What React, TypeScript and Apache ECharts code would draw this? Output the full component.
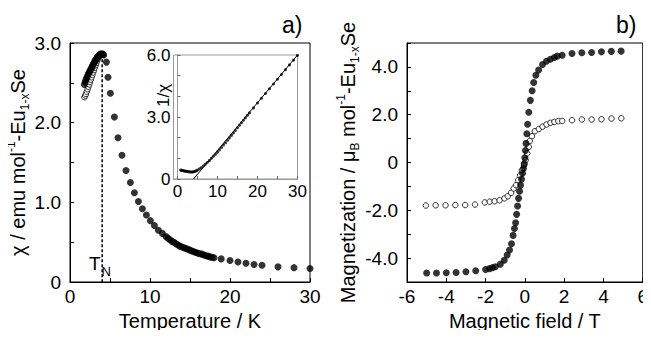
import React, { useEffect, useRef } from "react";
import * as echarts from "echarts";

// ---- Panel a) main: susceptibility vs temperature ----
const lowT_filled = [1.8, 1.9, 2.0, 2.1, 2.2, 2.3, 2.4, 2.5, 2.6, 2.7, 2.8, 2.9, 3.0, 3.1, 3.2, 3.3, 3.4, 3.5, 3.6, 3.7, 3.8, 3.9, 4.0, 4.1, 4.2];
const lowChi_filled = [2.48, 2.51, 2.54, 2.56, 2.59, 2.61, 2.63, 2.65, 2.67, 2.69, 2.71, 2.73, 2.75, 2.77, 2.79, 2.8, 2.82, 2.83, 2.84, 2.85, 2.86, 2.86, 2.86, 2.86, 2.85];
const lowT_open = [1.8, 1.9, 2.0, 2.1, 2.2, 2.3, 2.4, 2.5, 2.6, 2.7, 2.8, 2.9, 3.0, 3.1, 3.2, 3.3, 3.4, 3.5, 3.6];
const lowChi_open = [2.32, 2.34, 2.36, 2.39, 2.42, 2.45, 2.48, 2.51, 2.54, 2.57, 2.6, 2.63, 2.66, 2.69, 2.72, 2.75, 2.78, 2.8, 2.82];
const highT = [4.55, 4.75, 5.05, 5.55, 6.0, 6.5, 7.0, 7.55, 8.05, 8.55, 9.05, 9.55, 10.05, 10.55, 11.05, 11.55, 12.0, 12.25, 12.5, 12.75, 13.0, 13.25, 13.5, 13.75, 14.0, 14.25, 14.5, 14.75, 15.0, 15.25, 15.5, 15.75, 16.0, 16.25, 16.5, 16.75, 17.0, 17.25, 17.5, 17.75, 18.0, 18.9, 20.0, 21.0, 22.0, 23.0, 24.0, 26.0, 28.0, 30.0];
const highChi = [2.76, 2.57, 2.37, 2.07, 1.81, 1.59, 1.4, 1.25, 1.12, 1.01, 0.92, 0.84, 0.77, 0.71, 0.65, 0.61, 0.57, 0.55, 0.53, 0.51, 0.5, 0.48, 0.465, 0.45, 0.44, 0.43, 0.42, 0.41, 0.4, 0.39, 0.38, 0.37, 0.36, 0.355, 0.35, 0.34, 0.33, 0.325, 0.315, 0.31, 0.305, 0.29, 0.27, 0.25, 0.235, 0.22, 0.21, 0.19, 0.18, 0.17];
const neelT = 4.02;
const neelTop = 2.86;

// ---- Panel a) inset: inverse susceptibility ----
const insetT = [0.8, 1.0, 1.25, 1.5, 1.75, 2.0, 2.25, 2.5, 2.75, 3.0, 3.25, 3.5, 3.75, 4.0, 4.25, 4.5, 4.75, 5.0, 5.5, 6.0, 6.5, 7.0, 7.5, 8.0, 8.5, 9.0, 9.5, 10, 10.5, 11, 11.5, 12, 12.5, 13, 13.5, 14, 14.5, 15, 15.5, 16, 16.5, 17, 17.5, 18, 19, 20, 21, 22, 23, 24, 25, 26, 27, 28, 29, 30];
const insetInv = [0.43, 0.42, 0.41, 0.4, 0.39, 0.38, 0.37, 0.36, 0.35, 0.35, 0.34, 0.34, 0.34, 0.35, 0.36, 0.38, 0.4, 0.43, 0.49, 0.56, 0.64, 0.72, 0.81, 0.9, 1.0, 1.1, 1.2, 1.3, 1.41, 1.52, 1.64, 1.75, 1.87, 1.99, 2.11, 2.23, 2.35, 2.48, 2.6, 2.72, 2.84, 2.96, 3.08, 3.2, 3.44, 3.68, 3.91, 4.14, 4.37, 4.6, 4.83, 5.06, 5.29, 5.52, 5.75, 5.98];
const fitT = [4.0, 30];
const fitInv = [0, 6.0];

// ---- Panel b): magnetization vs field ----
const fieldFilled = [-5, -4.5, -4, -3.5, -3, -2.5, -2, -1.8, -1.65, -1.5, -1.25, -1.05, -0.9, -0.78, -0.68, -0.6, -0.53, -0.47, -0.42, -0.37, -0.32, -0.27, -0.22, -0.17, -0.12, -0.07, -0.03, 0, 0.03, 0.06, 0.1, 0.14, 0.2, 0.28, 0.37, 0.45, 0.56, 0.7, 0.9, 1.1, 1.3, 1.5, 1.65, 1.9, 2.4, 2.9, 3.4, 3.9, 4.4, 4.9];
const magFilled = [-4.62, -4.62, -4.61, -4.6, -4.57, -4.53, -4.48, -4.44, -4.4, -4.36, -4.26, -4.09, -3.87, -3.66, -3.4, -3.05, -2.76, -2.52, -2.17, -1.82, -1.5, -1.2, -0.95, -0.7, -0.45, -0.25, -0.05, 0.2, 0.5, 0.8, 1.2, 1.6, 2.1, 2.6, 3.0, 3.35, 3.65, 3.87, 4.1, 4.24, 4.32, 4.39, 4.45, 4.49, 4.56, 4.59, 4.6, 4.63, 4.65, 4.66];
const fieldOpen = [-5.04, -4.54, -4.04, -3.54, -3.04, -2.54, -2.04, -1.79, -1.54, -1.29, -1.04, -0.87, -0.7, -0.57, -0.45, -0.34, -0.24, -0.15, -0.04, 0.04, 0.12, 0.2, 0.25, 0.36, 0.51, 0.71, 0.9, 1.1, 1.3, 1.5, 1.7, 1.9, 2.4, 2.9, 3.4, 3.9, 4.41, 4.91];
const magOpen = [-1.8, -1.79, -1.79, -1.78, -1.78, -1.76, -1.67, -1.64, -1.62, -1.58, -1.5, -1.41, -1.27, -1.09, -0.95, -0.74, -0.53, -0.32, -0.11, 0.1, 0.38, 0.65, 0.9, 1.1, 1.31, 1.4, 1.5, 1.59, 1.66, 1.7, 1.73, 1.74, 1.77, 1.8, 1.8, 1.81, 1.84, 1.85];

const FONT = "'Liberation Sans', Arial, sans-serif";
const zip = (a: number[], b: number[]) => a.map((v, i) => [v, b[i]]);

export default function App() {
  const ref = useRef<HTMLDivElement>(null);
  useEffect(() => {
    if (!ref.current) return;
    const chart = echarts.init(ref.current, null, { renderer: "svg" });
    const tickStyle = { color: "#000", width: 1 };
    const labelBase = { color: "#000", fontFamily: FONT, fontSize: 19 };
    const richName = {
      a: { fontSize: 20, fontFamily: FONT, color: "#000", lineHeight: 26, verticalAlign: "middle" },
      sup: { fontSize: 12, fontFamily: FONT, color: "#000", lineHeight: 26, verticalAlign: "top" },
      sub: { fontSize: 12, fontFamily: FONT, color: "#000", lineHeight: 26, verticalAlign: "bottom" },
    };
    const option: any = {
      animation: false,
      backgroundColor: "#fff",
      grid: [
        { left: 70, right: 341, top: 43, bottom: 56, show: true, borderColor: "#000", borderWidth: 1 },
        { left: 173.5, width: 124, top: 55, height: 124, show: true, borderColor: "#999", borderWidth: 1, backgroundColor: "#fff" },
        { left: 407, right: 5, top: 43, bottom: 56, show: true, borderColor: "#000", borderWidth: 1 },
      ],
      xAxis: [
        {
          gridIndex: 0, type: "value", min: 0, max: 30, interval: 5,
          axisLine: { show: true, lineStyle: { color: "#000" } },
          axisTick: { inside: true, length: 4, lineStyle: tickStyle },
          splitLine: { show: false },
          axisLabel: { ...labelBase, margin: 5, formatter: (v: number) => (v % 10 === 0 ? String(v) : "") },
          name: "Temperature / K", nameLocation: "middle", nameGap: 28,
          nameTextStyle: { ...labelBase, fontSize: 20 },
        },
        {
          gridIndex: 1, type: "value", min: -1, max: 30,
          axisLine: { show: true, lineStyle: { color: "#999" } },
          axisTick: { inside: true, length: 3, lineStyle: { color: "#666" }, customValues: [0, 5, 10, 15, 20, 25, 30] },
          splitLine: { show: false },
          axisLabel: { ...labelBase, fontSize: 17, margin: 4, customValues: [0, 10, 20, 30], formatter: (v: number) => String(v) },
        },
        {
          gridIndex: 2, type: "value", min: -6, max: 6, interval: 2,
          axisLine: { show: true, onZero: false, lineStyle: { color: "#000" } },
          axisTick: { inside: true, length: 4, lineStyle: tickStyle },
          splitLine: { show: false },
          axisLabel: { ...labelBase, margin: 5, formatter: (v: number) => String(v) },
          name: "Magnetic field / T", nameLocation: "middle", nameGap: 28,
          nameTextStyle: { ...labelBase, fontSize: 20 },
        },
      ],
      yAxis: [
        {
          gridIndex: 0, type: "value", min: 0, max: 3, interval: 0.5,
          axisLine: { show: true, lineStyle: { color: "#000" } },
          axisTick: { inside: true, length: 4, lineStyle: tickStyle },
          splitLine: { show: false },
          axisLabel: { ...labelBase, margin: 9, formatter: (v: number) => (Math.abs(v - Math.round(v)) < 1e-6 ? (v === 0 ? "0" : v.toFixed(1)) : "") },
          name: "{a|χ / emu mol}{sup|-1}{a|-Eu}{sub|1-x}{a|Se}", nameLocation: "middle", nameGap: 37,
          nameTextStyle: { rich: richName },
        },
        {
          gridIndex: 1, type: "value", min: 0, max: 6, interval: 1,
          axisLine: { show: true, lineStyle: { color: "#999" } },
          axisTick: { inside: true, length: 3, lineStyle: { color: "#666" } },
          splitLine: { show: false },
          axisLabel: { ...labelBase, fontSize: 17, margin: 3, formatter: (v: number) => (v % 3 === 0 ? (v === 0 ? "0" : v.toFixed(1)) : "") },
        },
        {
          gridIndex: 2, type: "value", min: -5, max: 5, interval: 1,
          axisLine: { show: true, onZero: false, lineStyle: { color: "#000" } },
          axisTick: { inside: true, length: 4, lineStyle: tickStyle },
          splitLine: { show: false },
          axisLabel: { ...labelBase, margin: 9, formatter: (v: number) => (v % 2 === 0 ? (v === 0 ? "0" : v.toFixed(1)) : "") },
          name: "{a|Magnetization / μ}{sub|B}{a| mol}{sup|-1}{a|-Eu}{sub|1-x}{a|Se}", nameLocation: "middle", nameGap: 43,
          nameTextStyle: { rich: richName },
        },
      ],
      series: [
        {
          type: "line", xAxisIndex: 0, yAxisIndex: 0, symbol: "none",
          data: [[neelT, neelTop], [neelT, 0]],
          lineStyle: { color: "#000", width: 1.5, type: [3, 2] }, z: 1,
        },
        {
          type: "scatter", xAxisIndex: 0, yAxisIndex: 0, symbol: "circle", symbolSize: 5.5,
          data: zip(lowT_open, lowChi_open),
          itemStyle: { color: "#fff", borderColor: "#000", borderWidth: 1 }, z: 2,
        },
        {
          type: "scatter", xAxisIndex: 0, yAxisIndex: 0, symbol: "circle", symbolSize: 7,
          data: zip(lowT_filled, lowChi_filled).concat(zip(highT, highChi)),
          itemStyle: { color: "#000" }, z: 3,
        },
        {
          type: "line", xAxisIndex: 1, yAxisIndex: 1, symbol: "none",
          data: zip(fitT, fitInv), lineStyle: { color: "#000", width: 1 }, z: 4,
        },
        {
          type: "scatter", xAxisIndex: 1, yAxisIndex: 1, symbol: "circle", symbolSize: 3,
          data: zip(insetT, insetInv), itemStyle: { color: "#000" }, z: 5,
        },
        {
          type: "scatter", xAxisIndex: 2, yAxisIndex: 2, symbol: "circle", symbolSize: 5.5,
          data: zip(fieldOpen, magOpen),
          itemStyle: { color: "#fff", borderColor: "#000", borderWidth: 1 }, z: 2,
        },
        {
          type: "scatter", xAxisIndex: 2, yAxisIndex: 2, symbol: "circle", symbolSize: 7,
          data: zip(fieldFilled, magFilled), itemStyle: { color: "#000" }, z: 3,
        },
      ],
      graphic: [
        { type: "text", left: 282, top: 13, style: { text: "a)", font: `23px ${FONT}`, fill: "#000" } },
        { type: "text", left: 616, top: 13, style: { text: "b)", font: `23px ${FONT}`, fill: "#000" } },
        {
          type: "text", x: 155, y: 107, rotation: Math.PI / 2,
          style: { text: "1/χ", font: `17px ${FONT}`, fill: "#000", align: "left", verticalAlign: "top" },
        },
        {
          type: "text", left: 89, top: 254,
          style: {
            text: "{t|T}{s|N}",
            rich: {
              t: { fontSize: 19, fontFamily: FONT, fill: "#000", lineHeight: 24, verticalAlign: "top" },
              s: { fontSize: 13, fontFamily: FONT, fill: "#000", lineHeight: 24, verticalAlign: "bottom", padding: [0, 0, 0, 1] },
            },
          },
        },
      ],
    };
    chart.setOption(option);
    return () => chart.dispose();
  }, []);
  return <div ref={ref} style={{ width: 651, height: 338, margin: -8 }} />;
}
